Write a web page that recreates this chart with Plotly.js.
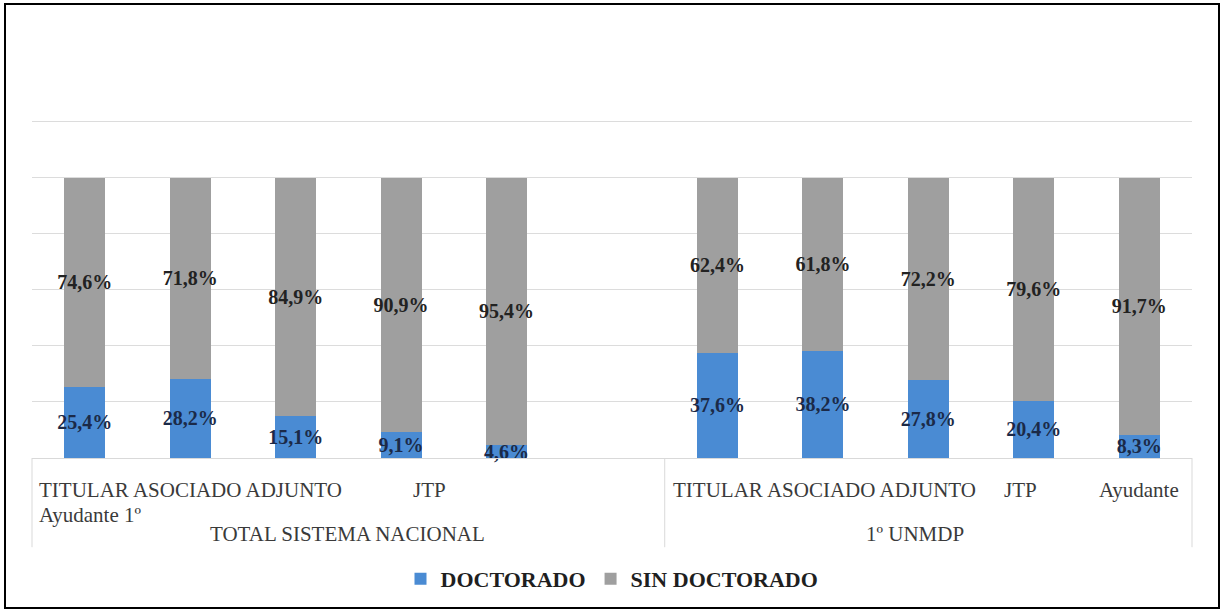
<!DOCTYPE html>
<html>
<head>
<meta charset="utf-8">
<script src="https://cdn.plot.ly/plotly-3.0.1.min.js"></script>
<style>
  html, body { margin: 0; padding: 0; background: #ffffff; }
  #wrap { position: relative; width: 1224px; height: 612px; }
  #chart { width: 1224px; height: 612px; }
  #frame { position: absolute; left: 4px; top: 3px; width: 1216px; height: 606px;
           box-sizing: border-box; border: 2px solid #000; pointer-events: none; }
</style>
</head>
<body>
<div id="wrap"><div id="chart"></div><div id="frame"></div></div>
<script>
// ---- data ----
const groups = ["TOTAL SISTEMA NACIONAL", "1º UNMDP"];
const cargos = ["TITULAR", "ASOCIADO", "ADJUNTO", "JTP", "Ayudante"];
const doctoradoNacional = [25.4, 28.2, 15.1, 9.1, 4.6];
const sinDoctoradoNacional = [74.6, 71.8, 84.9, 90.9, 95.4];
const doctoradoUnmdp = [37.6, 38.2, 27.8, 20.4, 8.3];
const sinDoctoradoUnmdp = [62.4, 61.8, 72.2, 79.6, 91.7];
const seriesNames = ["DOCTORADO", "SIN DOCTORADO"];
// category tick text as it appears (overflowing / wrapped in the original)
const tickLinesNacional = ["TITULAR ASOCIADO ADJUNTO", "JTP", "Ayudante 1º"];
const tickLinesUnmdp = ["TITULAR ASOCIADO ADJUNTO", "JTP", "Ayudante"];

// ---- build x keys: 5 bars + empty slot for group 1, 5 bars for group 2 ----
const xKeys = [];
const yDoc = [];
const ySin = [];
cargos.forEach((c, i) => { xKeys.push(groups[0] + "|" + c); yDoc.push(doctoradoNacional[i]); ySin.push(sinDoctoradoNacional[i]); });
xKeys.push(groups[0] + "|"); yDoc.push(null); ySin.push(null);
cargos.forEach((c, i) => { xKeys.push(groups[1] + "|" + c); yDoc.push(doctoradoUnmdp[i]); ySin.push(sinDoctoradoUnmdp[i]); });

const fmt = v => (v === null ? "" : v.toFixed(1).replace(".", ",") + "%");

const serif = "Liberation Serif, Times New Roman, serif";

const traces = [
  {
    type: "bar", name: seriesNames[0], x: xKeys, y: yDoc,
    text: yDoc.map(fmt), textposition: "inside", insidetextanchor: "middle",
    textangle: 0, constraintext: "none", cliponaxis: false,
    textfont: { family: serif, size: 20, color: "#1b2a48", weight: "bold" },
    marker: { color: "#4a8bd3", line: { width: 0 } },
    hoverinfo: "skip"
  },
  {
    type: "bar", name: seriesNames[1], x: xKeys, y: ySin,
    text: ySin.map(fmt), textposition: "inside", insidetextanchor: "middle",
    textangle: 0, constraintext: "none", cliponaxis: false,
    textfont: { family: serif, size: 20, color: "#222222", weight: "bold" },
    marker: { color: "#9f9f9f", line: { width: 0 } },
    hoverinfo: "skip"
  }
];

// pixel -> paper helpers (plot area: x 32..1192, y 116..461, y range 0..122)
const TOP = 116, BOT = 461;
const PX = x => (x - 32) / 1160;
const PY = y => (BOT - y) / (BOT - TOP);

const catFont = { family: serif, size: 21, color: "#3a3a3a" };
const ann = (text, x, y, anchor) => ({
  text: text, xref: "paper", yref: "paper", x: PX(x), y: PY(y),
  xanchor: anchor || "left", yanchor: "middle", showarrow: false, font: catFont
});

const annotations = [
  ann(tickLinesNacional[0], 37, 493),
  ann(tickLinesNacional[1], 411, 493),
  ann(tickLinesNacional[2], 37, 518),
  ann(groups[0], 347, 538, "center"),
  ann(tickLinesUnmdp[0], 671, 493),
  ann(tickLinesUnmdp[1], 1002, 493),
  ann(tickLinesUnmdp[2], 1097, 493),
  ann(groups[1], 915, 538, "center")
];

const sepLine = xp => ({
  type: "line", xref: "paper", yref: "paper", x0: xp, x1: xp, y0: 0, y1: PY(551),
  line: { color: "#d9d9d9", width: 1 }
});

const layout = {
  width: 1224, height: 612,
  margin: { l: 32, r: 32, t: TOP, b: 612 - BOT, pad: 0 },
  paper_bgcolor: "#ffffff", plot_bgcolor: "#ffffff",
  barmode: "stack", bargap: 0.61,
  showlegend: true,
  uniformtext: { mode: "show", minsize: 20 },
  legend: {
    orientation: "h", x: 0.5, xanchor: "center", y: PY(583), yanchor: "middle",
    font: { family: serif, size: 22, color: "#1f1f1f", weight: "bold" },
    itemwidth: 30, traceorder: "normal"
  },
  xaxis: {
    type: "category", categoryorder: "array", categoryarray: xKeys,
    showticklabels: false, ticks: "", showgrid: false, zeroline: false,
    showline: true, linecolor: "#d9d9d9", linewidth: 1, fixedrange: true
  },
  yaxis: {
    range: [0, 122], tickvals: [20, 40, 60, 80, 100, 120], showticklabels: false, ticks: "",
    showgrid: true, gridcolor: "#dcdcdc", gridwidth: 1, zeroline: false,
    showline: false, fixedrange: true
  },
  annotations: annotations,
  shapes: [sepLine(0), sepLine(6 / 11), sepLine(1)]
};

Plotly.newPlot("chart", traces, layout, { displayModeBar: false, staticPlot: true });
</script>
</body>
</html>
